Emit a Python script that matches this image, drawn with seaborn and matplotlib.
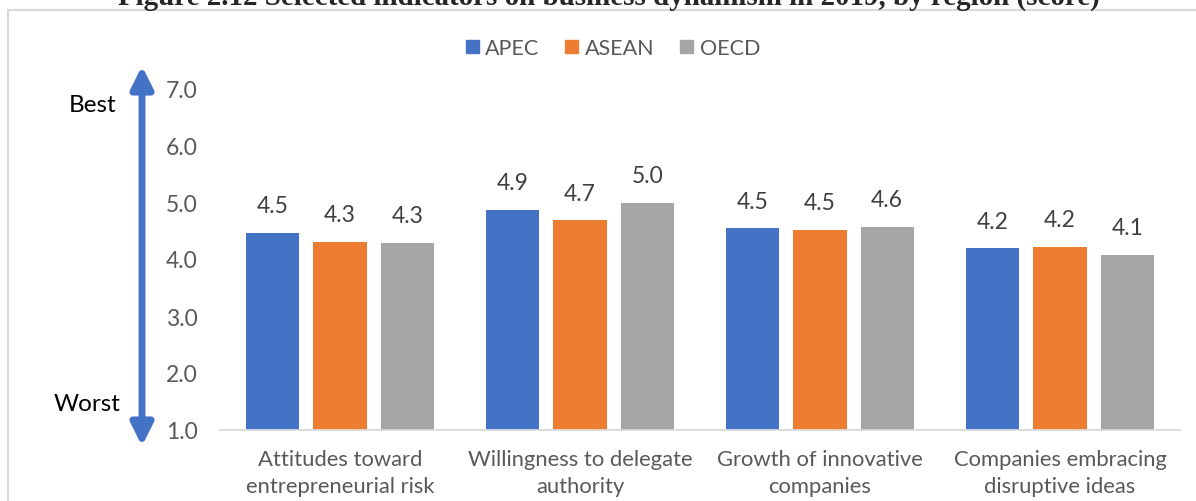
import matplotlib
matplotlib.use("Agg")
import matplotlib.pyplot as plt
import pandas as pd
import seaborn as sns
from matplotlib.patches import Rectangle

# Chart data
categories = [
    "Attitudes toward\nentrepreneurial risk",
    "Willingness to delegate\nauthority",
    "Growth of innovative\ncompanies",
    "Companies embracing\ndisruptive ideas",
]
regions = ["APEC", "ASEAN", "OECD"]
apec = [4.46, 4.86, 4.54, 4.19]
asean = [4.30, 4.68, 4.51, 4.21]
oecd = [4.28, 4.98, 4.56, 4.07]
colors = ["#4472C4", "#ED7D31", "#A5A5A5"]

sns.set_style("white")
plt.rcParams["font.family"] = ["Lato", "DejaVu Sans"]

W, H = 1196, 502
fig = plt.figure(figsize=(W / 100, H / 100), dpi=100)

# Convert to long form for seaborn
df = pd.DataFrame({
    "category": categories * 3,
    "region": [r for r in regions for _ in categories],
    "score": apec + asean + oecd,
})

ax = fig.add_axes([220 / W, 1 - 431 / H, 960 / W, 342 / H])
sns.barplot(data=df, x="category", y="score", hue="region", order=categories,
            hue_order=regions, palette=colors, width=0.84, gap=0.21,
            saturation=1, legend=False, ax=ax, edgecolor="none")

ax.set_ylim(1, 7)
ax.set_xlim(-0.5, 3.5)
ax.set_yticks([1, 2, 3, 4, 5, 6, 7])
ax.set_yticklabels([f"{v:.1f}" for v in range(1, 8)])
ax.set_xlabel("")
ax.set_ylabel("")
for s in ["top", "right", "left"]:
    ax.spines[s].set_visible(False)
ax.spines["bottom"].set_color("#D9D9D9")
ax.spines["bottom"].set_linewidth(1.3)
ax.tick_params(axis="y", length=0, pad=16, labelsize=16.5, labelcolor="#595959")
ax.tick_params(axis="x", which="major", length=0, pad=14, labelsize=15.8,
               labelcolor="#595959")
ax.set_xticks([-0.5, 0.5, 1.5, 2.5, 3.5], minor=True)
ax.tick_params(axis="x", which="minor", direction="inout", length=11,
               width=1.3, color="#D9D9D9")
for lbl in ax.get_xticklabels():
    lbl.set_linespacing(1.4)

# Value labels
for container in ax.containers:
    ax.bar_label(container, fmt="%.1f", padding=12, fontsize=16.5, color="#404040")

# Legend
handles = [Rectangle((0, 0), 1, 1, color=c) for c in colors]
leg = fig.legend(handles, regions, loc="center", bbox_to_anchor=(613 / W, 1 - 49 / H),
                 ncol=3, frameon=False, fontsize=15.5, handlelength=0.6,
                 handleheight=0.6, handletextpad=0.3, columnspacing=1.2)
for t in leg.get_texts():
    t.set_color("#595959")

# Best / Worst arrow
ax.annotate("", xy=(142 / W, 1 - 67 / H), xytext=(142 / W, 1 - 447 / H),
            xycoords="figure fraction", textcoords="figure fraction",
            arrowprops=dict(arrowstyle="<|-|>,head_length=1.1,head_width=0.55",
                            color="#4472C4", lw=5, mutation_scale=12,
                            shrinkA=0, shrinkB=0))
fig.text(116 / W, 1 - 106 / H, "Best", ha="right", va="center", fontsize=17.5, color="black")
fig.text(121 / W, 1 - 405 / H, "Worst", ha="right", va="center", fontsize=17.5, color="black")

# Frame and (cropped) title
fig.patches.append(Rectangle((8 / W, -0.05), 1.2, 1.05 - 11 / H, transform=fig.transFigure,
                             fill=False, edgecolor="#D9D9D9", lw=1.5))
fig.text(609 / W, 1 - 5 / H,
         "Figure 2.12 Selected indicators on business dynamism in 2019, by region (score)",
         ha="center", va="baseline", fontsize=20.9, fontweight="bold",
         family="Liberation Serif")

fig.savefig("out.png", dpi=100)
